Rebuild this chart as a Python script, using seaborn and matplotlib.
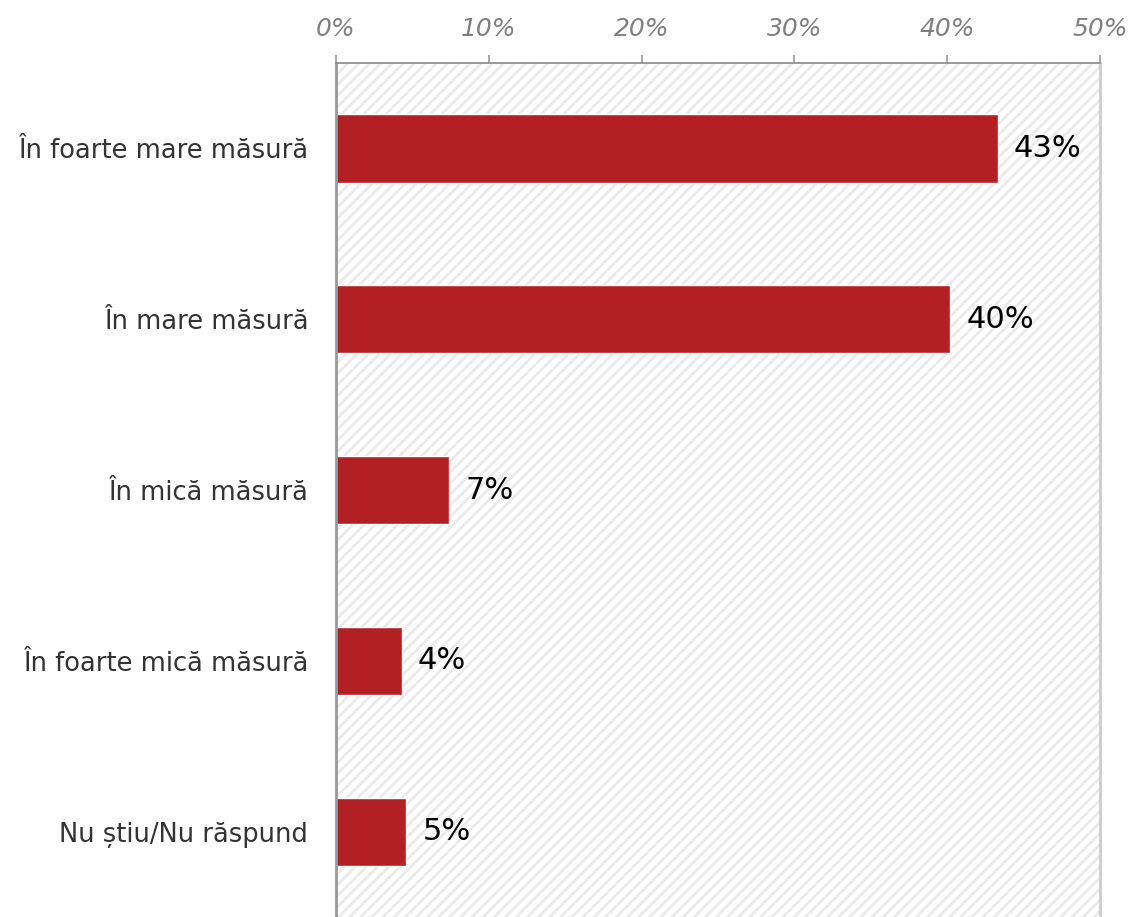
import numpy as np
import pandas as pd
import matplotlib
matplotlib.use("Agg")
import matplotlib.pyplot as plt
import matplotlib.ticker as mticker
from matplotlib.patches import Rectangle
import seaborn as sns

categories = ["În foarte mare măsură", "În mare măsură", "În mică măsură",
              "În foarte mică măsură", "Nu știu/Nu răspund"]
values = [43.3, 40.2, 7.4, 4.3, 4.6]
labels = ["43%", "40%", "7%", "4%", "5%"]
x_ticks = [0, 10, 20, 30, 40, 50]

BAR_COLOR = "#B22024"

sns.set_style("white")
plt.rcParams["font.family"] = ["DejaVu Sans"]
plt.rcParams["hatch.linewidth"] = 2.0
plt.rcParams["hatch.color"] = "#eaeaea"

df = pd.DataFrame({"cat": categories, "val": values})

fig = plt.figure(figsize=(11.3, 9.17), dpi=100)
ax = fig.add_axes([336 / 1130, -0.004, (1100 - 336) / 1130, (917 - 63) / 917 + 0.004])

# fond hasurat
bg = Rectangle((0, 0), 1, 1, transform=ax.transAxes, facecolor="white",
               edgecolor="#eaeaea", hatch="///", lw=0, zorder=0)
ax.add_patch(bg)

sns.barplot(data=df, x="val", y="cat", orient="h", color=BAR_COLOR,
            width=0.4, saturation=1, ax=ax, zorder=2)

for i, (v, lab) in enumerate(zip(values, labels)):
    ax.text(v + 1.05, i, lab, va="center", ha="left", fontsize=22,
            color="black", zorder=3)

ax.set_xlim(0, 50)
ax.set_ylim(4.52, -0.5)
ax.set_xticks(x_ticks)
ax.xaxis.set_major_formatter(mticker.FuncFormatter(lambda v, p: f"{v:.0f}%"))
ax.xaxis.tick_top()
ax.tick_params(axis="x", which="major", length=6, width=1.2, color="#999999",
               labelsize=18, labelcolor="#808080", pad=10, direction="out")
for t in ax.get_xticklabels():
    t.set_fontstyle("italic")

ax.set_yticks(np.arange(len(categories)))
ax.set_yticklabels(categories, fontsize=18.5, color="#333333")
ax.tick_params(axis="y", which="major", length=0, pad=20)
ax.set_yticks(np.arange(len(categories) - 1) + 0.5, minor=True)
ax.tick_params(axis="y", which="minor", length=6, width=1, color="#999999",
               direction="out")

ax.set_xlabel("")
ax.set_ylabel("")

ax.spines["top"].set_visible(True)
ax.spines["top"].set_linestyle((0, (1, 1)))
ax.spines["top"].set_color("#888888")
ax.spines["top"].set_linewidth(1.2)
ax.spines["left"].set_color("#999999")
ax.spines["left"].set_linewidth(2)
ax.spines["right"].set_visible(True)
ax.spines["right"].set_color("#cccccc")
ax.spines["right"].set_linewidth(2)
ax.spines["bottom"].set_visible(False)

fig.savefig("out.png", dpi=100, facecolor="white")
